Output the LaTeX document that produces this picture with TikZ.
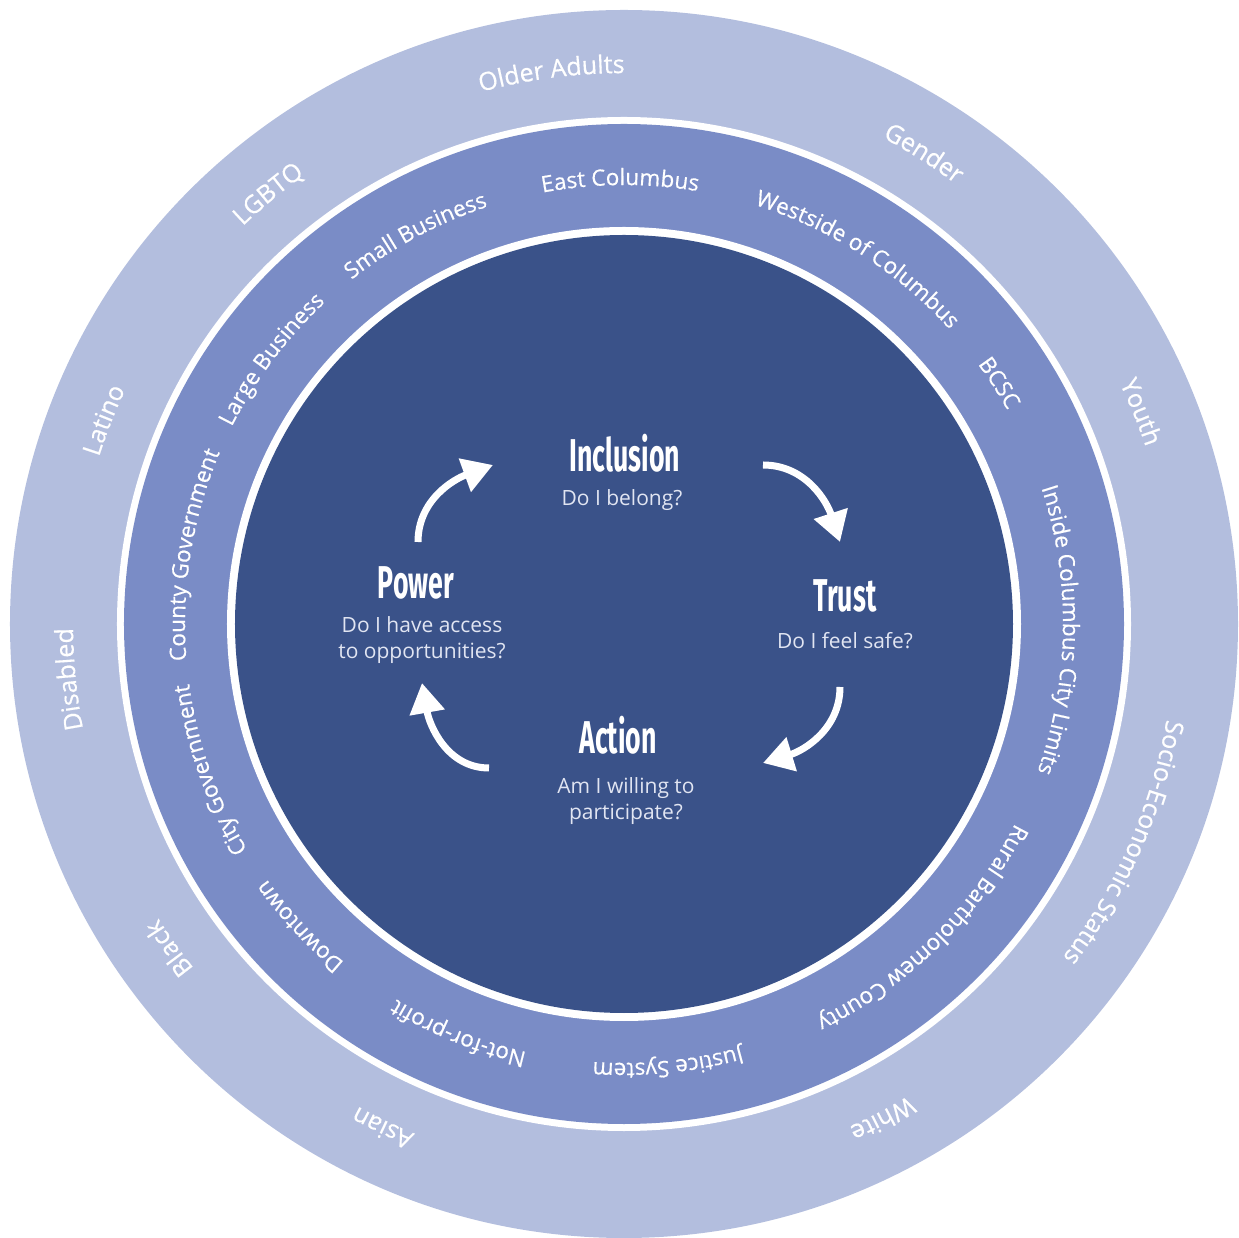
\documentclass[tikz,border=0pt]{standalone}
\usepackage{fontspec}
\setmainfont{Open Sans}
\newfontfamily\ringfamily[FakeBold=0.5]{Open Sans}
\newfontfamily\headfont[FakeStretch=0.58]{Fira Sans}
\usetikzlibrary{decorations.text,arrows.meta}

\definecolor{outerring}{HTML}{B3BEDE}
\definecolor{middlering}{HTML}{7A8CC6}
\definecolor{corecircle}{HTML}{3A5289}
\definecolor{questiongray}{HTML}{E1E5F2}

\newcommand\outerfont{\ringfamily\fontsize{25}{29}\selectfont}
\newcommand\middlefont{\ringfamily\fontsize{22.5}{27}\selectfont}

\begin{document}
\begin{tikzpicture}[x=1pt,y=1pt,
  ringlabel/.style={decorate,decoration={text along path,text align=center,text color=white}},
  headlabel/.style={font=\headfont\bfseries\fontsize{46}{48}\selectfont,text=white},
  questionlabel/.style={font=\fontsize{21}{26}\selectfont,text=questiongray,align=center},
  cyclearrow/.style={white,line width=7pt,-{Triangle[length=30pt,width=34pt]}}]
\useasboundingbox (-624,-614) rectangle (615,624);

% Rings
\fill[outerring] (0,0) circle (614);
\fill[white] (0,0) circle (507);
\fill[middlering] (0,0) circle (500);
\fill[white] (0,0) circle (397);
\fill[corecircle] (0,0) circle (389);

% Outer ring labels
\foreach \a/\t in {97.5/Older Adults, 57.5/Gender, 22.3/Youth, -23.6/Socio-Economic Status,
    -62.4/White, -115.6/Asian, -144.5/Black, -174.3/Disabled, 158.6/Latino, 129.6/LGBTQ} {
  \path[ringlabel,decoration={text/.expanded={|\noexpand\outerfont|\t}}]
    ({\a+40}:551) arc[start angle=\a+40,end angle=\a-40,radius=551];
}

% Middle ring labels
\foreach \a/\t in {90.5/East Columbus, 57.4/Westside of Columbus, 32.7/BCSC,
    -0.8/Inside Columbus City Limits, -45.5/Rural Bartholomew County, -84.3/Justice System,
    -112/Not-for-profit, -137/Downtown, -160.6/City Government, 170.9/County Government,
    143.1/Large Business, 118.2/Small Business} {
  \path[ringlabel,decoration={text/.expanded={|\noexpand\middlefont|\t}}]
    ({\a+40}:439) arc[start angle=\a+40,end angle=\a-40,radius=439];
}

% Cycle
\node[headlabel] (inclusion) at (1,171) {Inclusion};
\node[questionlabel] (belong) at (-2,124) {Do I belong?};
\node[headlabel] (trust) at (221,28) {Trust};
\node[questionlabel] (safe) at (221,-17) {Do I feel safe?};
\node[headlabel] (action) at (-6,-111) {Action};
\node[questionlabel] (willing) at (2,-177) {Am I willing to\\participate?};
\node[headlabel] (power) at (-208,41) {Power};
\node[questionlabel] (access) at (-202,-16) {Do I have access\\to opportunities?};

% Arrows
\coordinate (powerout) at (-206,82);
\coordinate (inclusionin) at (-131,159);
\coordinate (inclusionout) at (139,159);
\coordinate (trustin) at (216,82);
\coordinate (trustout) at (216,-63);
\coordinate (actionin) at (139,-139);
\coordinate (actionout) at (-135,-144);
\coordinate (powerin) at (-202,-59);
\draw[cyclearrow] (powerout) to[out=90,in=200] (inclusionin);
\draw[cyclearrow] (inclusionout) to[out=0,in=108] (trustin);
\draw[cyclearrow] (trustout) to[out=-90,in=17] (actionin);
\draw[cyclearrow] (actionout) to[out=180,in=-80] (powerin);
\end{tikzpicture}
\end{document}
